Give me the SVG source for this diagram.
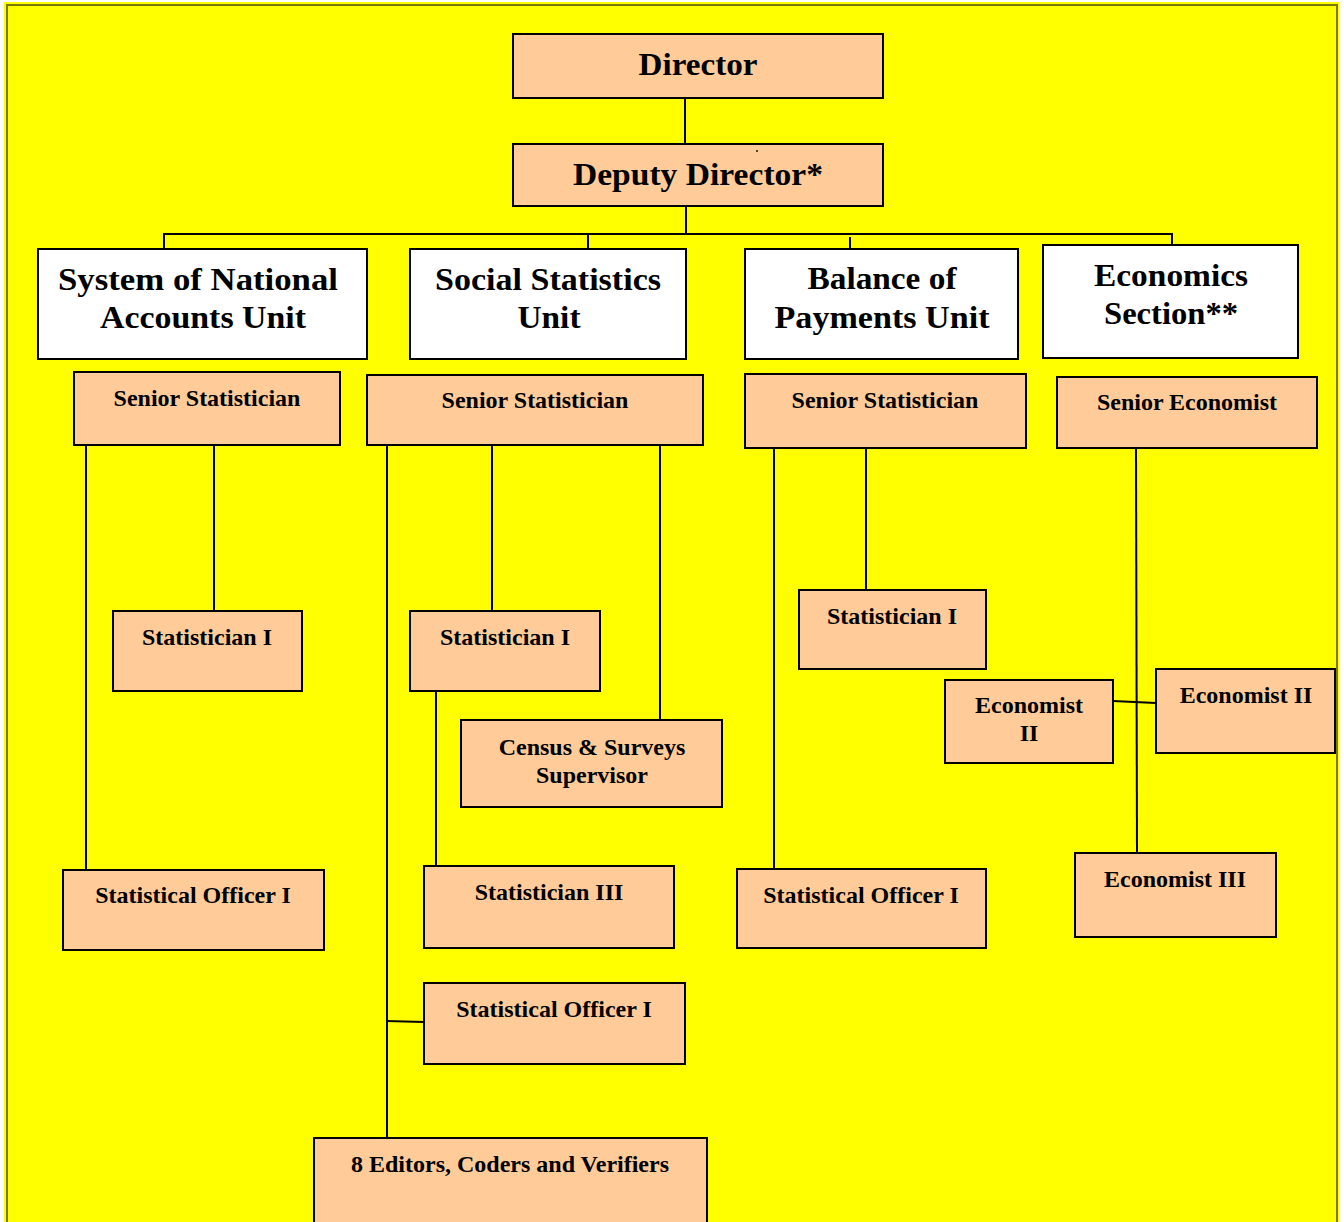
<svg xmlns="http://www.w3.org/2000/svg" width="1344" height="1222" viewBox="0 0 1344 1222">
<style>
.frame{fill:#ffff00}
.frameline{fill:none;stroke:#7a7a00;stroke-width:2}
.peach{fill:#ffcc99;stroke:#000;stroke-width:2}
.white{fill:#ffffff;stroke:#000;stroke-width:2}
.big{font-family:"Liberation Serif","Times New Roman",serif;font-weight:bold;font-size:31px;fill:#000;text-anchor:middle}
.small{font-family:"Liberation Serif","Times New Roman",serif;font-weight:bold;font-size:24px;fill:#000;text-anchor:middle}
.conn line,.conn polyline{stroke:#000;stroke-width:2;fill:none}
</style>
<rect x="0" y="0" width="1344" height="1222" fill="#ffffff"/>
<rect class="frame" x="4" y="2" width="1335" height="1240"/>
<rect class="frameline" x="7" y="5" width="1330" height="1240"/>

<g class="conn" id="connectors">
  <line x1="685" y1="98" x2="685" y2="144"/>
  <line x1="686" y1="206" x2="686" y2="234"/>
  <line x1="163" y1="234" x2="1173" y2="234"/>
  <line x1="164" y1="234" x2="164" y2="249"/>
  <line x1="588" y1="234" x2="588" y2="248"/>
  <line x1="850" y1="237" x2="850" y2="248"/>
  <line x1="1172" y1="234" x2="1172" y2="245"/>
  <!-- SNA -->
  <line x1="86" y1="446" x2="86" y2="870"/>
  <line x1="214" y1="446" x2="214" y2="611"/>
  <!-- Social -->
  <line x1="387" y1="446" x2="387" y2="1138"/>
  <line x1="386" y1="1021" x2="424" y2="1022"/>
  <line x1="492" y1="446" x2="492" y2="611"/>
  <line x1="660" y1="446" x2="660" y2="720"/>
  <line x1="436" y1="691" x2="436" y2="866"/>
  <!-- BoP -->
  <line x1="774" y1="448" x2="774" y2="869"/>
  <line x1="866" y1="444" x2="866" y2="590"/>
  <!-- Economics -->
  <line x1="1136" y1="448" x2="1137" y2="853"/>
  <line x1="1113" y1="701" x2="1156" y2="703"/>
</g>

<g id="director">
  <rect class="peach" x="513" y="34" width="370" height="64"/>
  <text class="big" x="698" y="75" textLength="119" lengthAdjust="spacingAndGlyphs">Director</text>
</g>
<g id="deputy-director">
  <rect class="peach" x="513" y="144" width="370" height="62"/>
  <text class="big" x="698" y="185" textLength="250" lengthAdjust="spacingAndGlyphs">Deputy Director*</text>
  <circle cx="757" cy="151" r="0.9" fill="#000"/>
</g>

<g id="sna-unit">
  <rect class="white" x="38" y="249" width="329" height="110"/>
  <text class="big" x="198" y="290" textLength="280" lengthAdjust="spacingAndGlyphs">System of National</text>
  <text class="big" x="203" y="328" textLength="206" lengthAdjust="spacingAndGlyphs">Accounts Unit</text>
</g>
<g id="social-unit">
  <rect class="white" x="410" y="249" width="276" height="110"/>
  <text class="big" x="548" y="290" textLength="226" lengthAdjust="spacingAndGlyphs">Social Statistics</text>
  <text class="big" x="549" y="328" textLength="63" lengthAdjust="spacingAndGlyphs">Unit</text>
</g>
<g id="bop-unit">
  <rect class="white" x="745" y="249" width="273" height="110"/>
  <text class="big" x="882" y="289" textLength="149" lengthAdjust="spacingAndGlyphs">Balance of</text>
  <text class="big" x="882" y="328" textLength="215" lengthAdjust="spacingAndGlyphs">Payments Unit</text>
</g>
<g id="economics-section">
  <rect class="white" x="1043" y="245" width="255" height="113"/>
  <text class="big" x="1171" y="286" textLength="154" lengthAdjust="spacingAndGlyphs">Economics</text>
  <text class="big" x="1171" y="324" textLength="134" lengthAdjust="spacingAndGlyphs">Section**</text>
</g>

<g id="sna-senior-statistician">
  <rect class="peach" x="74" y="372" width="266" height="73"/>
  <text class="small" x="207" y="406">Senior Statistician</text>
</g>
<g id="sna-statistician-1">
  <rect class="peach" x="113" y="611" width="189" height="80"/>
  <text class="small" x="207" y="645">Statistician I</text>
</g>
<g id="sna-statistical-officer-1">
  <rect class="peach" x="63" y="870" width="261" height="80"/>
  <text class="small" x="193" y="903">Statistical Officer I</text>
</g>

<g id="social-senior-statistician">
  <rect class="peach" x="367" y="375" width="336" height="70"/>
  <text class="small" x="535" y="408">Senior Statistician</text>
</g>
<g id="social-statistician-1">
  <rect class="peach" x="410" y="611" width="190" height="80"/>
  <text class="small" x="505" y="645">Statistician I</text>
</g>
<g id="census-surveys-supervisor">
  <rect class="peach" x="461" y="720" width="261" height="87"/>
  <text class="small" x="592" y="755">Census &amp; Surveys</text>
  <text class="small" x="592" y="783">Supervisor</text>
</g>
<g id="social-statistician-3">
  <rect class="peach" x="424" y="866" width="250" height="82"/>
  <text class="small" x="549" y="900">Statistician III</text>
</g>
<g id="social-statistical-officer-1">
  <rect class="peach" x="424" y="983" width="261" height="81"/>
  <text class="small" x="554" y="1017">Statistical Officer I</text>
</g>
<g id="editors-coders-verifiers">
  <rect class="peach" x="314" y="1138" width="393" height="100"/>
  <text class="small" x="510" y="1172">8 Editors, Coders and Verifiers</text>
</g>

<g id="bop-senior-statistician">
  <rect class="peach" x="745" y="374" width="281" height="74"/>
  <text class="small" x="885" y="408">Senior Statistician</text>
</g>
<g id="bop-statistician-1">
  <rect class="peach" x="799" y="590" width="187" height="79"/>
  <text class="small" x="892" y="624">Statistician I</text>
</g>
<g id="bop-statistical-officer-1">
  <rect class="peach" x="737" y="869" width="249" height="79"/>
  <text class="small" x="861" y="903">Statistical Officer I</text>
</g>

<g id="senior-economist">
  <rect class="peach" x="1057" y="377" width="260" height="71"/>
  <text class="small" x="1187" y="410">Senior Economist</text>
</g>
<g id="economist-2-left">
  <rect class="peach" x="945" y="680" width="168" height="83"/>
  <text class="small" x="1029" y="713">Economist</text>
  <text class="small" x="1029" y="741">II</text>
</g>
<g id="economist-2-right">
  <rect class="peach" x="1156" y="669" width="179" height="84"/>
  <text class="small" x="1246" y="703">Economist II</text>
</g>
<g id="economist-3">
  <rect class="peach" x="1075" y="853" width="201" height="84"/>
  <text class="small" x="1175" y="887">Economist III</text>
</g>
</svg>
